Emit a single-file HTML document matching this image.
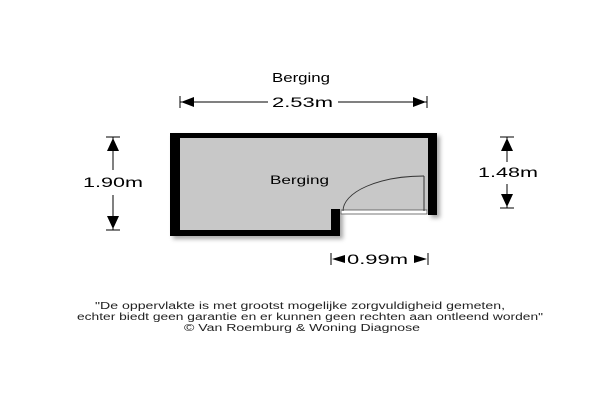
<!DOCTYPE html>
<html><head><style>body{margin:0;background:#fff}svg{display:block}</style></head><body>
<svg width="600" height="400" viewBox="0 0 600 400" font-family="Liberation Sans, sans-serif">
<defs><filter id="s" x="-10%" y="-10%" width="130%" height="130%"><feDropShadow dx="3" dy="3" stdDeviation="2" flood-color="#000" flood-opacity="0.35"/></filter></defs>
<text x="272" y="82" font-size="13" textLength="58" lengthAdjust="spacingAndGlyphs">Berging</text>
<g filter="url(#s)">
<path d="M170,133 H437 V215 H428 V138 H180 V230 H331 V209 H340 V236 H170 Z" fill="#000"/>
</g>
<path d="M180,138 H428 V210 H340 V230 H180 Z" fill="#c8c8c8"/>
<path d="M170,133 H437 V215 H428 V138 H180 V230 H331 V209 H340 V236 H170 Z" fill="#000"/>
<text x="270" y="184" font-size="12" textLength="59" lengthAdjust="spacingAndGlyphs">Berging</text>
<rect x="341" y="210" width="86" height="4" fill="#fff" stroke="#555" stroke-width="0.8"/>
<path d="M343,211 A81,35 0 0 1 424,176" fill="none" stroke="#333" stroke-width="0.9"/>
<line x1="424" y1="176" x2="424" y2="211" stroke="#333" stroke-width="1"/>
<g stroke="#000" stroke-width="1" fill="#000">
<line x1="180" y1="102" x2="268" y2="102"/><line x1="338" y1="102" x2="427" y2="102"/>
<line x1="180" y1="96" x2="180" y2="108"/><line x1="427" y1="96" x2="427" y2="108"/>
<path d="M181,102 l13,-5 v10z M426,102 l-13,-5 v10z" stroke="none"/>
<line x1="113" y1="137" x2="113" y2="170"/><line x1="113" y1="195" x2="113" y2="230"/>
<line x1="106" y1="137" x2="120" y2="137"/><line x1="106" y1="230" x2="120" y2="230"/>
<path d="M113,138 l-6,13 h12z M113,229 l-6,-13 h12z" stroke="none"/>
<line x1="507" y1="137" x2="507" y2="162"/><line x1="507" y1="184" x2="507" y2="208"/>
<line x1="500" y1="137" x2="514" y2="137"/><line x1="500" y1="208" x2="514" y2="208"/>
<path d="M507,138 l-6,13 h12z M507,207 l-6,-13 h12z" stroke="none"/>
<line x1="331" y1="253" x2="331" y2="265"/><line x1="428" y1="253" x2="428" y2="265"/>
<path d="M332,259 l13,-4 v8z M427,259 l-13,-4 v8z" stroke="none"/>
</g>
<text x="272" y="107" font-size="14" textLength="61" lengthAdjust="spacingAndGlyphs">2.53m</text>
<text x="83" y="187" font-size="14" textLength="60" lengthAdjust="spacingAndGlyphs">1.90m</text>
<text x="478" y="177" font-size="14" textLength="60" lengthAdjust="spacingAndGlyphs">1.48m</text>
<text x="347" y="264" font-size="14" textLength="61" lengthAdjust="spacingAndGlyphs">0.99m</text>
<g font-size="10" fill="#222" lengthAdjust="spacingAndGlyphs">
<text x="95" y="309" textLength="410" lengthAdjust="spacingAndGlyphs">"De oppervlakte is met grootst mogelijke zorgvuldigheid gemeten,</text>
<text x="77" y="320" textLength="466" lengthAdjust="spacingAndGlyphs">echter biedt geen garantie en er kunnen geen rechten aan ontleend worden"</text>
<text x="184" y="331" textLength="236" lengthAdjust="spacingAndGlyphs">© Van Roemburg &amp; Woning Diagnose</text>
</g>
</svg>
</body></html>
